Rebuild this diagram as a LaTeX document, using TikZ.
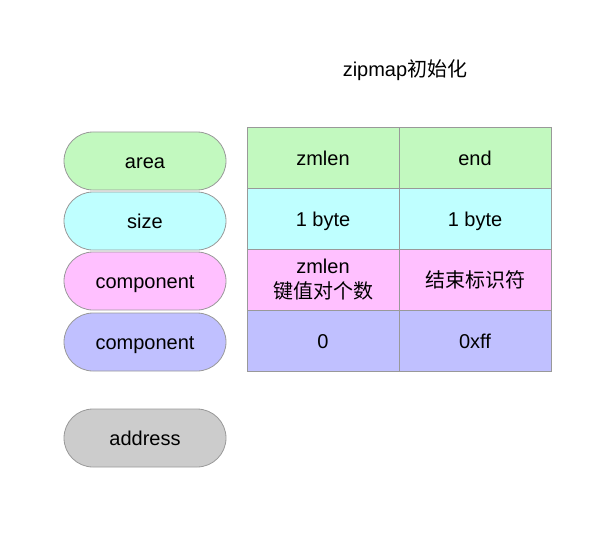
\documentclass[tikz,border=0pt]{standalone}
\usepackage{fontspec}
\setmainfont{Liberation Sans}
\newfontfamily\cjk{Noto Sans CJK SC}
\usetikzlibrary{shapes.misc}
\definecolor{cgreen}{HTML}{C2F9BF}
\definecolor{ccyan}{HTML}{BFFFFF}
\definecolor{cpink}{HTML}{FFC0FF}
\definecolor{cblue}{HTML}{C0C0FF}
\definecolor{cgray}{HTML}{CCCCCC}
\definecolor{cline}{HTML}{999999}
\begin{document}
\begin{tikzpicture}[x=1pt,y=-1pt,
  pill/.style={draw=cline,line width=0.8pt,rounded rectangle,minimum width=162pt,minimum height=58pt,inner sep=0pt,text height=15pt,text depth=0pt,font=\fontsize{20}{24}\selectfont},
  cell/.style={draw=cline,line width=0.8pt,rectangle,minimum width=152pt,minimum height=61pt,inner sep=0pt,align=center,font=\fontsize{20}{25}\selectfont},
  one/.style={text height=16pt,text depth=0pt}]
\useasboundingbox (0,0) rectangle (612,548);
\node[font=\fontsize{20}{24}\selectfont,anchor=base,inner sep=0pt] (title) at (405,76.5) {zipmap{\cjk 初始化}};
\node[pill,fill=cgreen] (p1) at (145,161) {area};
\node[pill,fill=ccyan] (p2) at (145,221) {size};
\node[pill,fill=cpink] (p3) at (145,281) {component};
\node[pill,fill=cblue] (p4) at (145,342) {component};
\node[pill,fill=cgray] (p5) at (145,438) {address};
\node[cell,one,fill=cgreen] (c11) at (323,157.5) {zmlen};
\node[cell,one,fill=cgreen] (c12) at (475,157.5) {end};
\node[cell,one,fill=ccyan] (c21) at (323,218.5) {1 byte};
\node[cell,one,fill=ccyan] (c22) at (475,218.5) {1 byte};
\node[cell,fill=cpink] (c31) at (323,279.5) {zmlen\\{\cjk 键值对个数}};
\node[cell,one,fill=cpink] (c32) at (475,279.5) {\cjk 结束标识符};
\node[cell,one,fill=cblue] (c41) at (323,340.5) {0};
\node[cell,one,fill=cblue] (c42) at (475,340.5) {0xff};
\end{tikzpicture}
\end{document}
